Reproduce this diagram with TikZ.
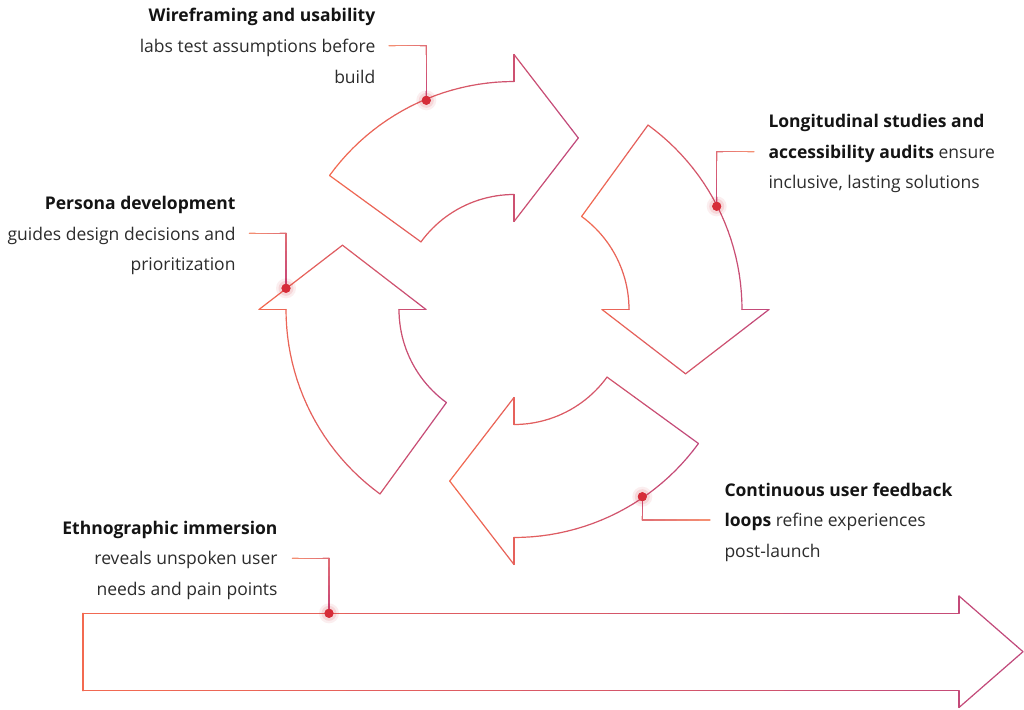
\documentclass[tikz,border=0pt]{standalone}
\usepackage{fontspec}
\setmainfont{Open Sans}
\usetikzlibrary{calc}
\definecolor{cA}{RGB}{243,106,80}
\definecolor{cB}{RGB}{192,72,124}
\definecolor{leadA}{RGB}{245,145,115}
\definecolor{leadB}{RGB}{198,66,118}
\definecolor{dotred}{RGB}{214,44,56}
\definecolor{txtgray}{RGB}{44,44,44}
\definecolor{txtdark}{RGB}{20,20,20}
\def\gcx{514}\def\gcy{309.5}
% gradient straight line between screen points, coloured by x in [xmin,xmax]
\newcommand\gxline[6]{%
 \foreach \gi in {0,...,9}{%
  \pgfmathsetmacro\gpXa{#1+(#3-#1)*\gi/10}%
  \pgfmathsetmacro\gpYa{#2+(#4-#2)*\gi/10}%
  \pgfmathsetmacro\gpXb{#1+(#3-#1)*(\gi+1)/10}%
  \pgfmathsetmacro\gpYb{#2+(#4-#2)*(\gi+1)/10}%
  \pgfmathtruncatemacro\gpT{max(0,min(100,((\gpXa+\gpXb)/2-#5)/(#6-#5)*100))}%
  \draw[stroke line, draw=cB!\gpT!cA] (\gpXa,\gpYa) -- (\gpXb,\gpYb);
 }}
% straight line between polar points (r,angle) rotated by rot
\newcommand\gpline[7]{%
  \pgfmathsetmacro\gqXa{\gcx+#1*cos(#2+#5)}%
  \pgfmathsetmacro\gqYa{\gcy-#1*sin(#2+#5)}%
  \pgfmathsetmacro\gqXb{\gcx+#3*cos(#4+#5)}%
  \pgfmathsetmacro\gqYb{\gcy-#3*sin(#4+#5)}%
  \gxline{\gqXa}{\gqYa}{\gqXb}{\gqYb}{#6}{#7}}
% arc of radius r from a1 to a2, rotated by rot
\newcommand\gparc[6]{%
 \foreach \gi in {0,...,23}{%
  \pgfmathsetmacro\gpA{#2+#4+(#3-#2)*\gi/24}%
  \pgfmathsetmacro\gpB{#2+#4+(#3-#2)*(\gi+1)/24}%
  \pgfmathsetmacro\gpXa{\gcx+#1*cos(\gpA)}%
  \pgfmathsetmacro\gpYa{\gcy-#1*sin(\gpA)}%
  \pgfmathsetmacro\gpXb{\gcx+#1*cos(\gpB)}%
  \pgfmathsetmacro\gpYb{\gcy-#1*sin(\gpB)}%
  \pgfmathtruncatemacro\gpT{max(0,min(100,((\gpXa+\gpXb)/2-#5)/(#6-#5)*100))}%
  \draw[stroke line, draw=cB!\gpT!cA] (\gpXa,\gpYa) -- (\gpXb,\gpYb);
 }}
% curved arrow
\newcommand\gcarrow[3]{%
  \gparc{228}{144}{90}{#1}{#2}{#3}%
  \gpline{228}{90}{255}{90}{#1}{#2}{#3}%
  \gpline{255}{90}{183.2}{69.45}{#1}{#2}{#3}%
  \gpline{183.2}{69.45}{88}{90}{#1}{#2}{#3}%
  \gpline{88}{90}{115}{90}{#1}{#2}{#3}%
  \gparc{115}{90}{144}{#1}{#2}{#3}%
  \gpline{115}{144}{228}{144}{#1}{#2}{#3}}
% leader: text end -> knee -> dot
\newcommand\gleader[3]{%
 \foreach \gi in {0,...,5}{%
  \pgfmathsetmacro\gfa{\gi/6}\pgfmathsetmacro\gfb{(\gi+1)/6}%
  \pgfmathtruncatemacro\gpT{(\gi+0.5)/6*45}%
  \draw[lead line, draw=leadB!\gpT!leadA] ($(#1)!\gfa!(#2)$) -- ($(#1)!\gfb!(#2)$);
 }%
 \foreach \gi in {0,...,5}{%
  \pgfmathsetmacro\gfa{\gi/6}\pgfmathsetmacro\gfb{(\gi+1)/6}%
  \pgfmathtruncatemacro\gpT{45+(\gi+0.5)/6*55}%
  \draw[lead line, draw=leadB!\gpT!leadA] ($(#2)!\gfa!(#3.center)$) -- ($(#2)!\gfb!(#3.center)$);
 }}
\tikzset{
  stroke line/.style={line width=1.2pt, line cap=round},
  lead line/.style={line width=1.2pt, line cap=round},
  lbl/.style={font=\fontsize{17.5}{20}\selectfont, text=txtgray, inner sep=0pt},
  dotn/.style={circle, fill=dotred, minimum size=9pt, inner sep=0pt},
}
\newcommand\hd[1]{{\color{txtdark}\bfseries #1}}
\newcommand\glow[1]{%
  \fill[dotred, opacity=0.08] (#1) circle (10);
  \fill[dotred, opacity=0.12] (#1) circle (7.5);}
\begin{document}
\begin{tikzpicture}[x=1pt,y=-1pt]
\useasboundingbox (0,0) rectangle (1024,709);
\fill[white] (0,0) rectangle (1024,709);

% curved arrows
\gcarrow{0}{330.7}{578.3}
\gcarrow{-90}{582}{769.5}
\gcarrow{-180}{449.7}{697.3}
\gcarrow{-270}{259}{446}

% long arrow
\gxline{83}{613.3}{959}{613.3}{83}{1023}
\gxline{959}{613.3}{959}{596}{83}{1023}
\gxline{959}{596}{1023}{651.7}{83}{1023}
\gxline{1023}{651.7}{959}{707.5}{83}{1023}
\gxline{959}{707.5}{959}{690.7}{83}{1023}
\gxline{959}{690.7}{83}{690.7}{83}{1023}
\gxline{83}{690.7}{83}{613.3}{83}{1023}

% dots
\node[dotn] (d1) at (426.3,100.3) {};
\node[dotn] (d2) at (716.7,206.3) {};
\node[dotn] (d3) at (286,288.3) {};
\node[dotn] (d4) at (642.3,496.7) {};
\node[dotn] (d5) at (329,613.3) {};

% leader coordinates
\coordinate (t1) at (389,45.7);   \coordinate (k1) at (426.3,45.7);
\coordinate (t2) at (754,151.7);  \coordinate (k2) at (716.7,151.7);
\coordinate (t3) at (249.3,233.3);\coordinate (k3) at (286,233.3);
\coordinate (t4) at (710,520);    \coordinate (k4) at (642.3,520);
\coordinate (t5) at (292.3,558.3);\coordinate (k5) at (329,558.3);
\gleader{t1}{k1}{d1}
\gleader{t2}{k2}{d2}
\gleader{t3}{k3}{d3}
\gleader{t4}{k4}{d4}
\gleader{t5}{k5}{d5}

\glow{d1}\glow{d2}\glow{d3}\glow{d4}\glow{d5}
\node[dotn] (e1) at (d1) {};
\node[dotn] (e2) at (d2) {};
\node[dotn] (e3) at (d3) {};
\node[dotn] (e4) at (d4) {};
\node[dotn] (e5) at (d5) {};

% texts
\node[lbl, anchor=base east] (w1) at (375.5,22) {\hd{Wireframing and usability}};
\node[lbl, anchor=base east] (w2) at (375.5,52.7) {labs test assumptions before};
\node[lbl, anchor=base east] (w3) at (375.5,83.3) {build};

\node[lbl, anchor=base west] (l1) at (768.3,127.5) {\hd{Longitudinal studies and}};
\node[lbl, anchor=base west] (l2) at (768.3,158) {\hd{accessibility audits} ensure};
\node[lbl, anchor=base west] (l3) at (768.3,188.5) {inclusive, lasting solutions};

\node[lbl, anchor=base east] (p1) at (235.7,209.5) {\hd{Persona development}};
\node[lbl, anchor=base east] (p2) at (235.7,240) {guides design decisions and};
\node[lbl, anchor=base east] (p3) at (235.7,270.6) {prioritization};

\node[lbl, anchor=base west] (c1) at (724.3,496) {\hd{Continuous user feedback}};
\node[lbl, anchor=base west] (c2) at (724.3,526.5) {\hd{loops} refine experiences};
\node[lbl, anchor=base west] (c3) at (724.3,557) {post-launch};

\node[lbl, anchor=base east] (n1) at (277.7,534) {\hd{Ethnographic immersion}};
\node[lbl, anchor=base east] (n2) at (277.7,564.5) {reveals unspoken user};
\node[lbl, anchor=base east] (n3) at (277.7,595) {needs and pain points};
\end{tikzpicture}
\end{document}
